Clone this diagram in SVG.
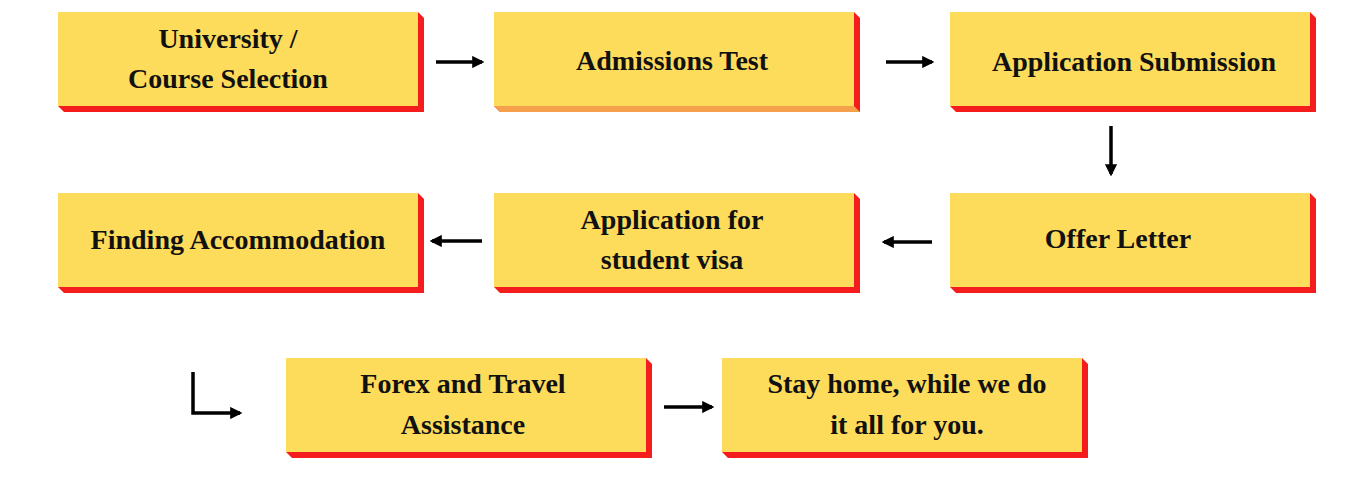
<svg xmlns="http://www.w3.org/2000/svg" width="1368" height="479" viewBox="0 0 1368 479">
<defs>
<style>
.face{fill:#FDDC5C}
.side{fill:#F41C1C}
.t{font-family:"Liberation Serif",serif;font-weight:bold;font-size:28px;fill:#111;text-anchor:middle}
.c{stroke:#000;stroke-width:3.5;fill:none}
</style>
<marker id="a" viewBox="0 0 10 10" refX="8" refY="5" markerWidth="3.5" markerHeight="3.5" orient="auto"><path d="M0,0L10,5L0,10z" fill="#000"/></marker>
</defs>
<rect width="1368" height="479" fill="#fff"/>
<g id="n1"><polygon class="side" points="418,12 424,18 424,112 64,112 58,106"/><rect class="face" x="58" y="12" width="360" height="94"/><text class="t" x="228" y="48">University /</text><text class="t" x="228" y="88">Course Selection</text></g>
<g id="n2"><polygon class="side" points="854,12 860,18 860,112 500,112 494,106"/><polygon fill="#F5A04A" points="494,106 854,106 860,112 500,112"/><rect class="face" x="494" y="12" width="360" height="94"/><text class="t" x="672" y="70">Admissions Test</text></g>
<g id="n3"><polygon class="side" points="1310,12 1316,18 1316,112 956,112 950,106"/><rect class="face" x="950" y="12" width="360" height="94"/><text class="t" x="1134" y="71">Application Submission</text></g>
<g id="n4"><polygon class="side" points="418,193 424,199 424,293 64,293 58,287"/><rect class="face" x="58" y="193" width="360" height="94"/><text class="t" x="238" y="249">Finding Accommodation</text></g>
<g id="n5"><polygon class="side" points="854,193 860,199 860,293 500,293 494,287"/><rect class="face" x="494" y="193" width="360" height="94"/><text class="t" x="672" y="229">Application for</text><text class="t" x="672" y="269">student visa</text></g>
<g id="n6"><polygon class="side" points="1310,193 1316,199 1316,293 956,293 950,287"/><rect class="face" x="950" y="193" width="360" height="94"/><text class="t" x="1118" y="248">Offer Letter</text></g>
<g id="n7"><polygon class="side" points="646,358 652,364 652,458 292,458 286,452"/><rect class="face" x="286" y="358" width="360" height="94"/><text class="t" x="463" y="393">Forex and Travel</text><text class="t" x="463" y="434">Assistance</text></g>
<g id="n8"><polygon class="side" points="1082,358 1088,364 1088,458 728,458 722,452"/><rect class="face" x="722" y="358" width="360" height="94"/><text class="t" x="907" y="393">Stay home, while we do</text><text class="t" x="907" y="434">it all for you.</text></g>
<g id="connectors">
<path class="c" marker-end="url(#a)" d="M436,62H482"/>
<path class="c" marker-end="url(#a)" d="M886,62H932"/>
<path class="c" marker-end="url(#a)" d="M1111,126V174"/>
<path class="c" marker-end="url(#a)" d="M932,242H884"/>
<path class="c" marker-end="url(#a)" d="M482,241H432"/>
<path class="c" marker-end="url(#a)" d="M193,372V413H240"/>
<path class="c" marker-end="url(#a)" d="M664,407H712"/>
</g>
</svg>
